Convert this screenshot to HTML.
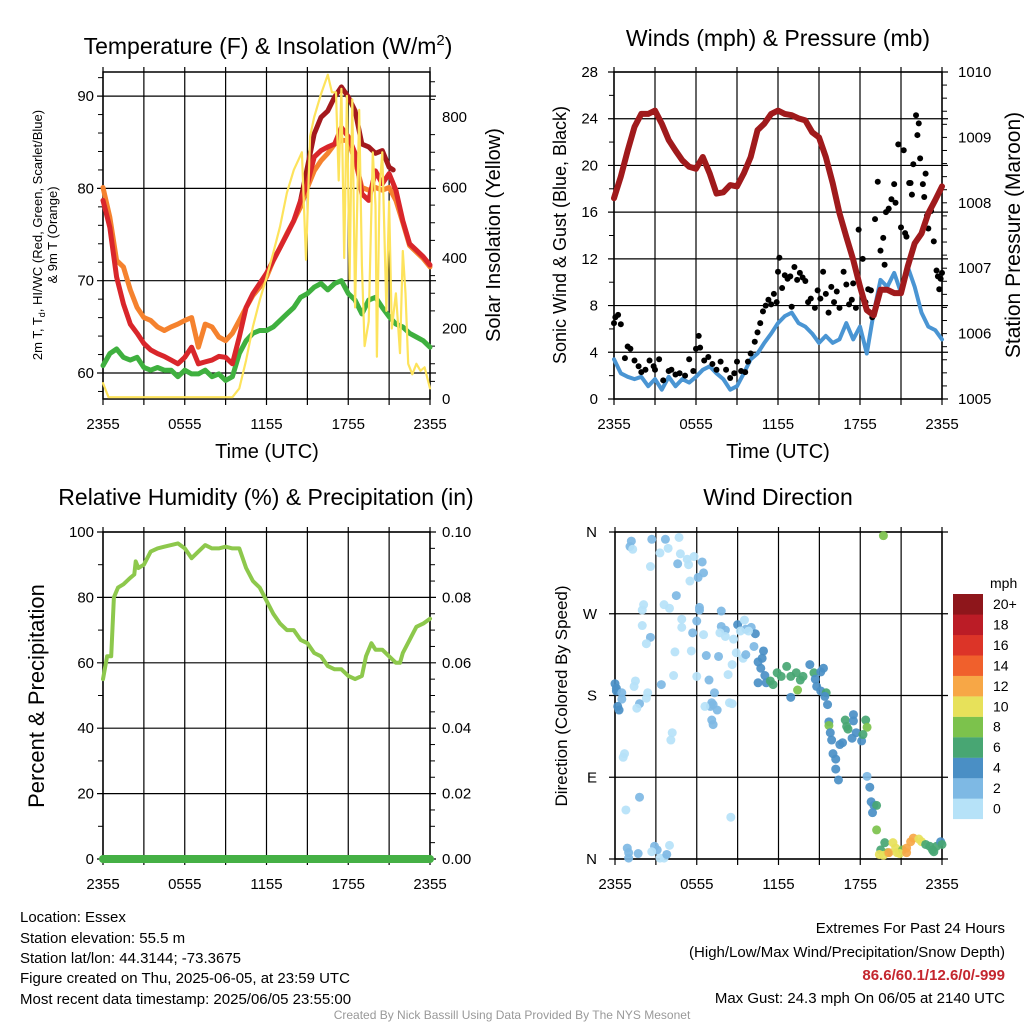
<!DOCTYPE html>
<html><head><meta charset="utf-8">
<style>
body{margin:0;background:#fff;}
svg{display:block;font-family:"Liberation Sans",Arial,sans-serif;}
</style></head>
<body>
<svg id="c" width="1024" height="1024" viewBox="0 0 1024 1024">
<text x="268" y="54" font-size="23" text-anchor="middle">Temperature (F) &amp; Insolation (W/m<tspan dy="-9" font-size="15">2</tspan><tspan dy="9">)</tspan></text>
<text x="778" y="46" font-size="23" text-anchor="middle">Winds (mph) &amp; Pressure (mb)</text>
<text x="266" y="505" font-size="23" text-anchor="middle">Relative Humidity (%) &amp; Precipitation (in)</text>
<text x="778" y="505" font-size="23" text-anchor="middle">Wind Direction</text>

<text transform="translate(42,235) rotate(-90)" font-size="13" text-anchor="middle">2m T, T<tspan dy="3" font-size="9">d</tspan><tspan dy="-3">, HI/WC (Red, Green, Scarlet/Blue)</tspan></text>
<text transform="translate(57,235) rotate(-90)" font-size="13" text-anchor="middle">&amp; 9m T (Orange)</text>
<text transform="translate(500,235) rotate(-90)" font-size="20" text-anchor="middle">Solar Insolation (Yellow)</text>
<text x="267" y="458" font-size="20" text-anchor="middle">Time (UTC)</text>
<text transform="translate(566,235) rotate(-90)" font-size="18" text-anchor="middle">Sonic Wind &amp; Gust (Blue, Black)</text>
<text transform="translate(1020,235) rotate(-90)" font-size="21" text-anchor="middle">Station Pressure (Maroon)</text>
<text x="778" y="458" font-size="20" text-anchor="middle">Time (UTC)</text>
<text transform="translate(44,696) rotate(-90)" font-size="22" text-anchor="middle">Percent &amp; Precipitation</text>
<text transform="translate(567,696) rotate(-90)" font-size="17" text-anchor="middle">Direction (Colored By Speed)</text>

<g font-size="15">
<text x="20" y="922">Location: Essex</text>
<text x="20" y="943">Station elevation: 55.5 m</text>
<text x="20" y="963">Station lat/lon: 44.3144; -73.3675</text>
<text x="20" y="983">Figure created on Thu, 2025-06-05, at 23:59 UTC</text>
<text x="20" y="1004">Most recent data timestamp: 2025/06/05 23:55:00</text>
</g>
<g font-size="15" text-anchor="end">
<text x="1005" y="933">Extremes For Past 24 Hours</text>
<text x="1005" y="957">(High/Low/Max Wind/Precipitation/Snow Depth)</text>
<text x="1005" y="980" fill="#c4262e" font-weight="bold">86.6/60.1/12.6/0/-999</text>
<text x="1005" y="1003">Max Gust: 24.3 mph On 06/05 at 2140 UTC</text>
</g>
<text x="512" y="1019" font-size="12" fill="#999" text-anchor="middle">Created By Nick Bassill Using Data Provided By The NYS Mesonet</text>
<g id="g"></g>
</svg>
<script>
// ---------- data ----------
const halfHours = [0,0.5,1,1.5,2,2.5,3,3.5,4,4.5,5,5.5,6,6.5,7,7.5,8,8.5,9,9.5,10,10.5,11,11.5,12,12.5,13,13.5,14,14.5,15,15.5,16,16.5,17,17.5,18,18.5,19,19.5,20,20.5,21,21.5,22,22.5,23,23.5,24];
const airTemp = [78.7,75.8,70.4,67.5,65.3,64.3,63.2,62.5,62.1,61.8,61.4,61,61.7,62.8,61,61.2,61.4,61.8,61.7,61,63.9,67.1,68.6,69.7,70.8,72.2,73.6,75,76.5,78.7,80.5,83.4,84.1,84.5,84.8,86.6,85.6,83.8,79.4,78.7,81.9,80.5,81.6,79.8,76.5,74,73.3,72.6,71.7];
const temp9m = [80.1,76.9,72.2,71.5,69,67.1,66,65.7,65,64.6,65,65.3,65.7,66,62.8,65.3,65,63.9,63.5,64.3,65.7,67.1,68.4,69.3,70.4,72.2,73.6,75.1,76.5,78,80.1,81.9,83,83.8,84.8,85.2,85.2,83,80.1,79.8,80.1,79.8,80.1,78.7,76.3,73.8,73.1,72.4,71.5];
const dewPoint = [60.8,62.1,62.6,61.7,61.4,61.7,60.6,60.3,60.6,60.3,60.3,59.6,60.3,59.9,59.9,60.3,59.6,59.9,59.2,59.6,62.1,63.5,64.3,64.6,64.6,65,65.7,66.4,67.1,68.2,68.6,69.3,69.7,69,69.7,70,68.6,67.9,66.4,67.9,68.2,67.1,66.1,65.3,65,64.3,63.9,63.5,62.8];
const heatIdxHours = [14.5,15,15.5,16,16.5,17,17.5,18,18.5,19,19.5,20,20.5,21,21.3];
const heatIdx = [78.7,82.3,85.9,87.7,88.4,89.9,91,89.9,88.4,84.8,84.5,83.8,84.1,82.3,82];
const solarHours = [0,0.4,9.5,10,10.5,11,11.5,12,12.5,13,13.5,14,14.6,14.9,15.2,15.5,16,16.5,16.8,17.1,17.3,17.5,17.7,17.9,18.1,18.3,18.5,18.8,19,19.2,19.5,19.8,20,20.1,20.3,20.5,20.8,21,21.2,21.5,21.8,22,22.2,22.4,22.7,23,23.3,23.6,24];
const solar = [45,5,5,30,110,205,280,345,415,490,585,650,700,395,745,800,865,920,870,870,620,880,400,860,340,850,260,820,380,150,220,700,550,120,600,700,250,560,200,300,130,420,300,100,70,100,80,90,30];
const windSpeed = [3.4,2.2,1.9,1.7,1.9,1.1,1.7,0.8,1.9,1.1,1.7,1.4,1.9,2.5,2.8,2.2,1.7,0.8,1.1,2.2,3.4,3.9,4.8,5.6,6.5,7.1,7.4,6.5,6.2,5.6,4.8,5.4,4.8,5.1,6.5,5.1,6.2,3.9,7.4,10.2,9.6,10.8,9.1,11.3,9.6,7.4,6.2,5.9,5.1];
const pressure = [1008.07,1008.4,1008.8,1009.16,1009.36,1009.36,1009.41,1009.21,1008.96,1008.8,1008.65,1008.55,1008.52,1008.7,1008.45,1008.14,1008.16,1008.27,1008.25,1008.45,1008.7,1009.11,1009.21,1009.36,1009.41,1009.36,1009.34,1009.29,1009.26,1009.08,1009.0,1008.7,1008.3,1007.84,1007.48,1007.13,1006.72,1006.36,1006.28,1006.67,1006.67,1006.62,1006.62,1007.03,1007.38,1007.53,1007.84,1008.04,1008.25];
const gustHours = [0,0.1,0.3,0.5,0.8,1,1.2,1.5,1.8,2,2.3,2.6,2.9,3,3.3,3.6,4,4.2,4.5,4.8,5.2,5.5,5.8,6,6.2,6.3,6.6,6.9,7.2,7.5,7.8,8.2,8.5,8.8,9,9.3,9.6,9.8,10,10.3,10.5,10.7,10.9,11.1,11.3,11.5,11.7,11.9,12,12.1,12.3,12.5,12.7,12.9,13,13.2,13.4,13.6,13.8,14,14.2,14.4,14.7,14.9,15.1,15.3,15.5,15.7,15.9,16.1,16.3,16.5,16.8,17,17.2,17.4,17.5,17.7,17.9,18.2,18.4,18.6,18.8,18.9,19.1,19.3,19.5,19.7,19.8,19.9,20.1,20.3,20.5,20.6,20.8,21,21.2,21.3,21.4,21.6,21.7,21.8,21.9,22.1,22.2,22.3,22.4,22.6,22.7,22.8,22.9,23,23.2,23.4,23.6,23.7,23.8,23.9,24];
const gusts = [6.5,7,7.2,6.4,3.5,4.5,4.3,3.3,2.8,2.3,2.5,3.3,2.8,2.5,3.4,1.6,2.4,2.5,2.1,2.2,2,3.4,2.4,4.3,5.4,4.4,3.3,3.6,3,2.5,3.2,2.5,1.8,2.2,3.2,2.4,2.3,3.2,3.9,4.9,5.7,6.5,7.5,8,8.5,8.1,9,8.3,10.9,12.1,9.5,10.6,10.3,10.5,7.9,11.3,10.2,10.8,10.4,10.1,8.3,8.6,7.8,9.3,8.6,10.9,9,7.4,9.6,8.3,9.2,7.8,10.9,9.8,8.1,8.5,9.9,7.8,14.5,12,8.3,9.4,9.3,7,15.4,18.6,12.7,13.8,11.5,16,16.3,17.1,18.4,16.8,21.8,14.7,21.3,14.2,13.9,18.5,18.5,17.5,20.1,24.3,22.6,23.6,20.6,18.4,17.3,19.3,15.7,14.6,16.1,13.5,11,10.5,9.4,10.3,10.8];
const rhHours = [0,0.3,0.6,0.8,1.1,1.5,2,2.3,2.4,2.6,3,3.5,4,4.5,5,5.5,6,6.5,7,7.5,8,8.5,9,9.5,10,10.5,11,11.5,12,12.5,13,13.5,14,14.5,15,15.5,16,16.5,17,17.5,18,18.5,19,19.3,19.7,20,20.5,21,21.5,21.8,22,22.5,23,23.5,24];
const rh = [55,62,62,80,83,84,86,87,91,89,90,94,95,95.5,96,96.5,95,92,94,96,95,95,95.5,95,95,89,85,83,79,75,72,70,70,67,66,63,62,59,58,58,56,55,56,62,66,64,64,62,60,60,63,67,71,72,73.5];
const precipHours = [0,24];
const precip = [0,0];
// wind direction observations: [hour, degrees, speed mph]
const dirObs = [[1.2,350,3],[1.1,344,3],[1.3,341,1],[2.7,352,3],[3.7,352,3],[4.7,354,1],[3.3,337,1],[3.9,342,1],[4.8,336,1],[5.3,330,1],[5.8,333,1],[4.6,325,3],[5.4,324,1],[2.6,322,1],[6.4,327,3],[6.5,315,3],[6.1,310,3],[5.5,306,1],[4.5,290,3],[3.6,280,1],[4.0,276,1],[2.1,280,1],[2.0,274,1],[6.2,277,3],[6.2,274,3],[7.8,273,3],[4.9,264,1],[4.9,255,1],[2.0,257,1],[2.6,244,3],[2.3,237,1],[5.7,249,3],[6.0,262,3],[6.5,247,1],[7.8,256,3],[8.1,252,3],[7.7,249,1],[8.1,245,1],[8.7,242,1],[9.0,258,5],[9.5,263,1],[9.6,253,3],[10.0,255,3],[10.3,248,5],[9.8,251,1],[9.2,251,1],[10.2,234,3],[10.9,229,5],[10.8,221,5],[10.5,217,5],[10.7,210,5],[11.0,202,5],[10.5,194,5],[11.1,194,5],[11.4,196,7],[11.6,192,7],[11.9,205,7],[12.2,201,7],[12.6,212,7],[12.9,201,7],[13.3,205,7],[13.6,197,7],[13.8,201,7],[14.3,214,5],[14.6,205,7],[15.1,206,5],[15.3,210,5],[14.7,198,5],[14.8,190,5],[15.1,185,5],[15.5,183,7],[13.4,186,9],[12.9,178,5],[15.4,179,5],[15.6,170,5],[15.7,151,5],[15.7,147,9],[15.8,139,5],[15.9,131,5],[16.5,126,5],[16.7,128,5],[16.9,153,7],[17.0,146,7],[17.1,143,7],[17.5,159,5],[17.5,152,5],[17.7,139,5],[17.4,133,5],[18.1,130,5],[18.4,153,7],[18.5,145,9],[18.2,137,7],[16.0,116,5],[16.2,110,5],[16.2,99,5],[16.4,87,5],[18.5,91,3],[18.7,79,5],[18.8,63,5],[19.0,59,5],[19.2,59,7],[18.9,51,5],[19.2,32,9],[19.7,356,9],[19.5,10,7],[19.8,18,7],[20.0,7,9],[19.7,4,11],[19.4,5,11],[20.1,7,13],[20.4,18,11],[20.6,12,11],[20.7,7,11],[21.1,10,9],[20.9,6,11],[21.4,12,13],[21.4,7,13],[21.7,19,13],[21.9,23,13],[22.3,22,11],[22.5,19,11],[22.8,16,7],[23.1,14,7],[23.3,10,7],[23.6,14,7],[23.9,19,5],[24.0,16,7],[23.4,8,7],[0.0,193,5],[0.1,188,5],[0.1,185,5],[0.5,176,3],[0.2,168,5],[0.3,164,5],[0.5,183,3],[1.5,196,1],[1.4,190,1],[2.4,183,1],[2.3,177,1],[1.8,171,3],[1.6,166,1],[3.4,192,3],[4.3,202,1],[6.0,201,1],[6.9,197,3],[7.6,223,3],[6.7,224,3],[5.6,229,1],[4.4,228,1],[8.6,214,1],[8.3,203,1],[8.9,227,1],[9.4,221,1],[9.6,225,3],[7.3,183,3],[7.1,172,3],[7.0,168,3],[7.5,164,3],[7.2,170,3],[6.6,168,1],[8.4,172,1],[8.6,171,1],[7.1,153,3],[7.2,148,3],[4.2,139,1],[4.1,131,1],[0.7,116,1],[0.6,112,1],[1.8,68,3],[0.8,54,1],[8.5,46,1],[0.9,12,3],[1.0,7,3],[1.0,1,3],[1.7,6,3],[2.9,14,3],[3.1,10,3],[2.7,8,1],[3.3,1,1],[3.6,1,1],[3.8,5,3],[4.0,15,1]];
const timeLabels = ["2355","0555","1155","1755","2355"];
const tempTicks = [60,70,80,90];
const solarTicks = [0,200,400,600,800];
const windTicks = [0,4,8,12,16,20,24,28];
const pressTicks = [1005,1006,1007,1008,1009,1010];
const rhTicks = [0,20,40,60,80,100];
const precipTicks = ["0.00","0.02","0.04","0.06","0.08","0.10"];
const dirLabels = ["N","E","S","W","N"];
const speedLabels = ["0","2","4","6","8","10","12","14","16","18","20+"];
const speedColors = ["#b6e2f8","#7eb9e4","#4a8fc5","#48a673","#7cc24c","#e7e15a","#f7a746","#f0602c","#dc3428","#bb1c26","#8e161b"];

// ---------- helpers ----------
const NS="http://www.w3.org/2000/svg", G=document.getElementById('g');
function mk(t,a,p){const e=document.createElementNS(NS,t);for(const k in a)e.setAttribute(k,a[k]);(p||G).appendChild(e);return e;}
function panel(x0,x1,y0,y1){return {x0,x1,y0,y1,x:h=>x0+h*(x1-x0)/24};}
const P1=panel(103,430,72,399), P2=panel(614,942,72,399), P3=panel(103,430,532,859), P4=panel(615,942,532,859);
const yTemp=v=>373-(v-60)*9.23, ySolar=v=>399-v*0.3525;
const yWind=v=>399-v*327/28, yPress=p=>399-(p-1005)*65.4;
const yRH=v=>859-v*3.27, yPrecip=v=>859-v*3270;
const yDir=d=>859-d*327/360;

function frame(P,name,hy){
  const g=mk('g',{});
  
  
  for(let i=0;i<=8;i++){const x=P.x(i*3);
    const l=mk('line',{x1:x,x2:x,y1:P.y0-5,y2:P.y1+6,stroke:'#000','stroke-width':1.2},g);
    }
  hy.forEach(y=>{const l=mk('line',{x1:P.x0-6,x2:P.x1+6,y1:y,y2:y,stroke:'#000','stroke-width':1.2},g);
    });
  const r=mk('rect',{x:P.x0,y:P.y0,width:P.x1-P.x0,height:P.y1-P.y0,fill:'none',stroke:'#000','stroke-width':1.5},g);
  
  timeLabels.forEach((s,i)=>{const t=mk('text',{x:P.x(i*6),y:P.y1+30,'font-size':15,'text-anchor':'middle'},g);t.textContent=s;
    });
}
function label(x,y,s,anchor,fs){const t=mk('text',{x,y:y+5,'font-size':fs||15,'text-anchor':anchor});t.textContent=s;
  return t;}
function minor(x,ys,dir){ys.forEach(y=>{const l=mk('line',{x1:x,x2:x+dir,y1:y,y2:y,stroke:'#000','stroke-width':1});
  });}
function line(P,xs,ys,fy,color,w,name){
  const d=xs.map((h,i)=>(i?'L':'M')+P.x(h).toFixed(1)+','+fy(ys[i]).toFixed(1)).join('');
  const p=mk('path',{d,fill:'none',stroke:color,'stroke-width':w,'stroke-linejoin':'round','stroke-linecap':'round'});
  return p;}

// ---------- panel 1 ----------
frame(P1,'temperature',tempTicks.map(yTemp));
tempTicks.forEach(v=>label(94,yTemp(v),String(v),'end'));
solarTicks.forEach(v=>label(442,ySolar(v),String(v),'start'));
{const a=[];for(let v=50;v<=900;v+=50)if(v%200)a.push(ySolar(v));minor(430,a,5);
 const b=[];for(let v=58;v<=92;v+=2)if(v%10)b.push(yTemp(v));minor(103,b,-5);}
line(P1,halfHours,temp9m,yTemp,'#f5822e',5,'series-9m-temperature');
line(P1,halfHours,dewPoint,yTemp,'#3fb03f',5,'series-dewpoint');
line(P1,heatIdxHours,heatIdx,yTemp,'#a3191d',5,'series-heat-index');
line(P1,halfHours,airTemp,yTemp,'#d9262b',5,'series-2m-temperature');
line(P1,solarHours,solar,ySolar,'#fde35c',2.2,'series-solar-insolation');

// ---------- panel 2 ----------
frame(P2,'winds',windTicks.map(yWind));
windTicks.forEach(v=>label(598,yWind(v),String(v),'end'));
pressTicks.forEach(v=>label(958,yPress(v),String(v),'start'));
{const a=[];for(let p=1005.2;p<1010;p+=0.2)a.push(yPress(p));minor(942,a,5);
 const b=[];for(let v=2;v<28;v+=4)b.push(yWind(v));minor(614,b,-5);}
line(P2,halfHours,windSpeed,yWind,'#4a95d3',4,'series-sonic-wind');
gustHours.forEach((h,i)=>{const c=mk('circle',{cx:P2.x(h),cy:yWind(gusts[i]),r:3,fill:'#000'});
  });
line(P2,halfHours,pressure,yPress,'#a01a1c',6,'series-station-pressure');

// ---------- panel 3 ----------
frame(P3,'humidity',rhTicks.map(yRH));
rhTicks.forEach(v=>label(94,yRH(v),String(v),'end'));
precipTicks.forEach(s=>label(442,yPrecip(parseFloat(s)),s,'start'));
{const a=[];for(let v=0.005;v<0.1;v+=0.005)if(Math.round(v*1000)%20)a.push(yPrecip(v));minor(430,a,5);
 const b=[];for(let v=10;v<100;v+=20)b.push(yRH(v));minor(103,b,-5);}
line(P3,rhHours,rh,yRH,'#8dc84c',4,'series-relative-humidity');
line(P3,precipHours,precip,yPrecip,'#45b045',8,'series-precipitation');

// ---------- panel 4 ----------
frame(P4,'wind-direction',[0,90,180,270,360].map(yDir));
dirLabels.forEach((s,i)=>label(597,yDir(i*90),s,'end'));
function speedColor(s){return speedColors[Math.min(10,Math.floor(s/2))];}
dirObs.forEach(o=>{const c=mk('circle',{cx:P4.x(o[0]),cy:yDir(o[1]),r:4.5,fill:speedColor(o[2]),'fill-opacity':0.92});
  });
// colorbar
const cb=mk('g',{});


speedLabels.forEach((s,i)=>{const y=594+(10-i)*20.45;
  const r=mk('rect',{x:953,y,width:30,height:20.6,fill:speedColors[i]},cb);
  
  const t=mk('text',{x:993,y:y+15,'font-size':14},cb);t.textContent=s;
  });
const mu=mk('text',{x:990,y:588,'font-size':14},cb);mu.textContent='mph';


</script>
</body></html>
